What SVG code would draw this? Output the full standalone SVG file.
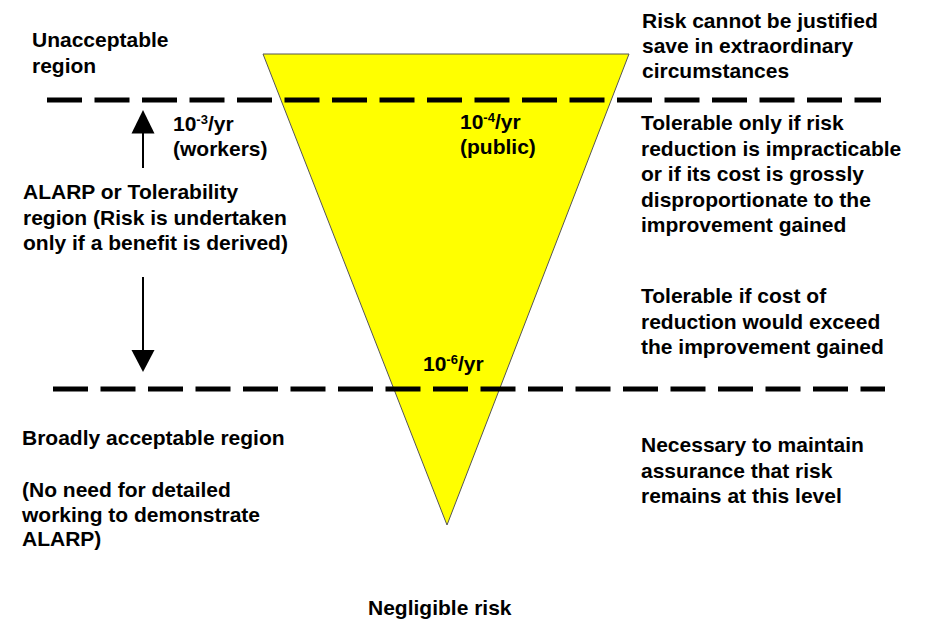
<svg xmlns="http://www.w3.org/2000/svg" width="926" height="620" viewBox="0 0 926 620">
  <defs>
    <style>
      .t { font-family: "Liberation Sans", Arial, sans-serif; font-weight: bold; font-size: 21px; fill: #000; }
      .sup { font-size: 13px; }
      .dash { stroke: #000; stroke-width: 5; stroke-dasharray: 35 12.5; fill: none; }
      .shaft { stroke: #000; stroke-width: 2; fill: none; }
      .head { fill: #000; }
    </style>
  </defs>
  <rect width="926" height="620" fill="#fff"/>

  <g id="triangle">
    <polygon points="263,54 629,54 447,525" fill="#ffff00" stroke="#555" stroke-width="1"/>
  </g>

  <g id="boundaries">
    <line class="dash" x1="47" y1="100" x2="881" y2="100"/>
    <line class="dash" x1="53" y1="389" x2="885" y2="389"/>
  </g>

  <g id="connectors">
    <line class="shaft" x1="143" y1="132" x2="143" y2="168"/>
    <polygon class="head" points="143,110 131.5,133.5 154.5,133.5"/>
    <line class="shaft" x1="143" y1="277" x2="143" y2="351"/>
    <polygon class="head" points="131.5,350 154.5,350 143,372"/>
  </g>

  <g id="unacceptable">
    <text class="t" x="32" y="47">Unacceptable</text>
    <text class="t" x="32" y="73">region</text>
  </g>

  <g id="workers">
    <text class="t" x="173" y="131">10<tspan class="sup" dy="-7">-3</tspan><tspan dy="7">/yr</tspan></text>
    <text class="t" x="173" y="156">(workers)</text>
  </g>

  <g id="public">
    <text class="t" x="460" y="129">10<tspan class="sup" dy="-7">-4</tspan><tspan dy="7">/yr</tspan></text>
    <text class="t" x="460" y="154">(public)</text>
  </g>

  <g id="negligible-threshold">
    <text class="t" x="423" y="371">10<tspan class="sup" dy="-7">-6</tspan><tspan dy="7">/yr</tspan></text>
  </g>

  <g id="alarp">
    <text class="t" x="23" y="199">ALARP or Tolerability</text>
    <text class="t" x="23" y="224.5">region (Risk is undertaken</text>
    <text class="t" x="23" y="250">only if a benefit is derived)</text>
  </g>

  <g id="broadly">
    <text class="t" x="22" y="445">Broadly acceptable region</text>
    <text class="t" x="22" y="497">(No need for detailed</text>
    <text class="t" x="22" y="521.5">working to demonstrate</text>
    <text class="t" x="22" y="546">ALARP)</text>
  </g>

  <g id="right-unacceptable">
    <text class="t" x="642" y="28">Risk cannot be justified</text>
    <text class="t" x="642" y="53">save in extraordinary</text>
    <text class="t" x="642" y="78">circumstances</text>
  </g>

  <g id="right-tolerable">
    <text class="t" x="641" y="130">Tolerable only if risk</text>
    <text class="t" x="641" y="155.5">reduction is impracticable</text>
    <text class="t" x="641" y="181">or if its cost is grossly</text>
    <text class="t" x="641" y="206.5">disproportionate to the</text>
    <text class="t" x="641" y="232">improvement gained</text>
  </g>

  <g id="right-tolerable-cost">
    <text class="t" x="641" y="303">Tolerable if cost of</text>
    <text class="t" x="641" y="328.5">reduction would exceed</text>
    <text class="t" x="641" y="354">the improvement gained</text>
  </g>

  <g id="right-necessary">
    <text class="t" x="641" y="452">Necessary to maintain</text>
    <text class="t" x="641" y="477.5">assurance that risk</text>
    <text class="t" x="641" y="503">remains at this level</text>
  </g>

  <g id="negligible">
    <text class="t" x="368" y="615">Negligible risk</text>
  </g>
</svg>
